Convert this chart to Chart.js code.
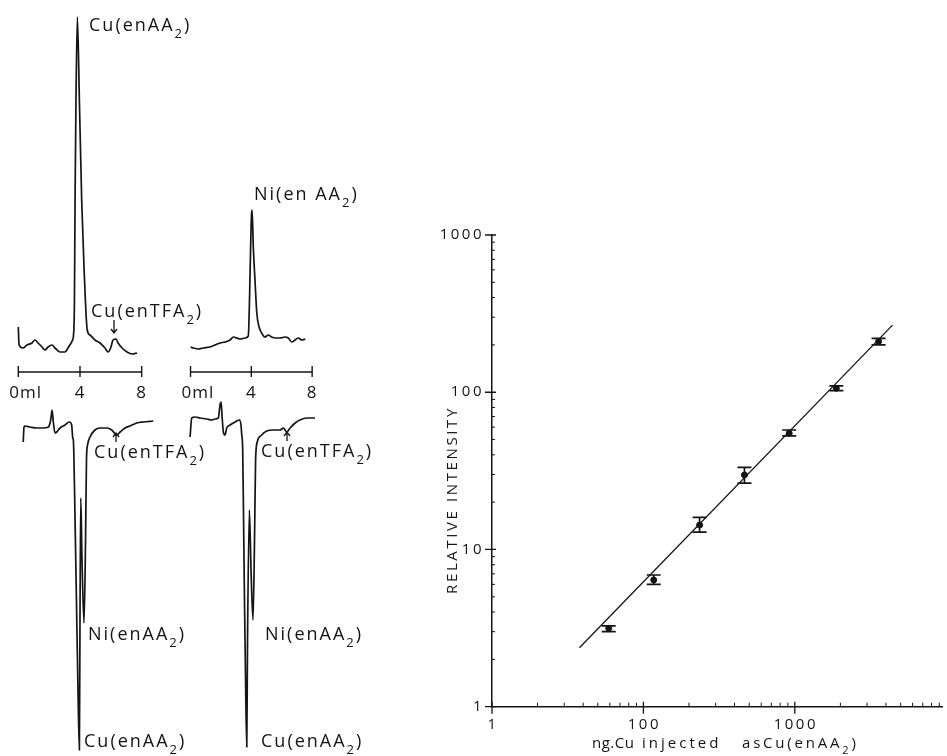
<!DOCTYPE html>
<html>
<head>
<meta charset="utf-8">
<script src="https://cdn.jsdelivr.net/npm/chart.js@4.4.1/dist/chart.umd.min.js"></script>
<style>
  html, body { margin: 0; padding: 0; background: #fff; }
  #wrap { position: relative; width: 947px; height: 756px; overflow: hidden; }
  #traces { position: absolute; left: 0; top: 0; }
  #calib { position: absolute; left: 400px; top: 200px; }
</style>
</head>
<body>
<div id="wrap">
  <canvas id="traces" width="400" height="756"></canvas>
  <canvas id="calib" width="547" height="556"></canvas>
</div>
<script>
// ---- elution traces: volume (ml) vs detector response (arbitrary units) ----
// upper left: Cu(enAA2) injection
const cuTopMl = [0.00, 0.05, 0.30, 0.56, 0.89, 1.08, 1.28, 1.54, 1.73, 1.93, 2.19, 2.38, 2.70, 3.03, 3.22, 3.42, 3.52, 3.58, 3.64, 3.68,
  3.74, 3.83, 3.96, 4.11, 4.26, 4.47, 4.65, 4.97, 5.30, 5.62, 5.82, 6.01, 6.14, 6.34, 6.47, 6.73, 7.05, 7.38, 7.70];
const cuTopResp = [28, 10, 7, 10, 12, 15, 12, 8, 5, 8, 10, 7, 3, 3, 7, 12, 15, 20, 55, 155,
  255, 338, 255, 155, 88, 25, 20, 15, 12, 7, 3, 8, 15, 16, 12, 7, 3, 1, 2];

// upper right: Ni(enAA2) injection
const niTopMl = [0.01, 0.18, 0.51, 0.84, 1.28, 1.61, 1.94, 2.27, 2.60, 2.82, 3.04, 3.26, 3.59, 3.80, 3.88, 3.95, 4.01, 4.05, 4.13, 4.24,
  4.36, 4.51, 4.68, 4.90, 5.12, 5.34, 5.56, 5.89, 6.22, 6.43, 6.66, 6.88, 7.09, 7.32, 7.55];
const niTopResp = [8, 7, 6, 7, 8, 10, 12, 13, 15, 18, 17, 16, 17, 19, 55, 105, 140, 145, 108, 75,
  42, 28, 22, 18, 20, 18, 17, 17, 18, 17, 13, 15, 17, 15, 16];

// lower left / lower right: second detector, negative peaks
const cuLowMl = [0.32, 0.37, 0.43, 0.76, 1.19, 1.62, 1.95, 2.10, 2.19, 2.27, 2.38, 2.49, 2.70, 3.03, 3.31, 3.46, 3.53, 3.57, 3.61, 3.68,
  3.77, 3.87, 3.96, 4.00, 4.05, 4.13, 4.26, 4.36, 4.42, 4.49, 4.65, 4.97, 5.30, 5.73, 6.06, 6.38, 6.60, 6.92, 7.24, 7.68, 8.11, 8.75];
const cuLowResp = [-12, 3, 4, 3, 2, 2, 3, 10, 20, 8, -3, -2, 2, 5, 8, 5, -8, -10, -30, -90,
  -170, -260, -320, -190, -68, -130, -193, -110, -30, -15, -7, 0, 2, 2, 0, -5, -2, 2, 4, 7, 8, 9];

const niLowMl = [-0.03, 0.08, 0.30, 0.63, 1.07, 1.39, 1.61, 1.83, 1.94, 2.01, 2.07, 2.16, 2.27, 2.38, 2.60, 2.93, 3.21, 3.32, 3.37, 3.43,
  3.49, 3.55, 3.62, 3.70, 3.75, 3.87, 3.98, 4.11, 4.21, 4.28, 4.39, 4.68, 5.01, 5.45, 5.89, 6.11, 6.33, 6.55, 6.88, 7.20, 7.64, 8.19];
const niLowResp = [-7, 12, 13, 12, 11, 10, 11, 12, 25, 28, 15, -2, -5, 2, 5, 8, 10, 5, -5, -18,
  -90, -170, -250, -317, -210, -80, -140, -190, -110, -30, -12, -5, -1, 0, 0, 2, -2, 2, 7, 10, 12, 12];

const scaleBarTicks = [0, 4, 8];
const scaleBarLabels = ["0ml", "4", "8"];

// ---- calibration: ng Cu injected vs relative intensity ----
const cuNg = [59, 117, 235, 465, 918, 1880, 3575];
const cuInt = [3.15, 6.4, 14.3, 29.8, 54.8, 106, 210];
const cuIntLow = [3.0, 6.0, 12.9, 26.4, 52.7, 102.4, 200];
const cuIntHigh = [3.27, 6.88, 16.0, 33.3, 57.5, 109.7, 220];
const fitNg = [37.8, 4420];
const fitInt = [2.37, 267];

const xTickValues = [10, 100, 1000];
const xTickLabels = ["1", "100", "1000"];
const yTickValues = [1, 10, 100, 1000];
const yTickLabels = ["1", "10", "100", "1000"];

const ink = "#141414";
const face = '"Open Sans", "DejaVu Sans", sans-serif';

const pts = (xs, ys) => xs.map((x, i) => ({ x: x, y: ys[i] }));

function subText(ctx, x, y, main, sub, tail, size, spacing) {
  ctx.letterSpacing = spacing + "px";
  ctx.font = size + "px " + face;
  ctx.fillText(main, x, y);
  const w = ctx.measureText(main).width;
  ctx.font = Math.round(size * 0.74) + "px " + face;
  ctx.fillText(sub, x + w, y + size * 0.4);
  const w2 = ctx.measureText(sub).width;
  ctx.font = size + "px " + face;
  ctx.fillText(tail, x + w + w2, y);
  ctx.letterSpacing = "0px";
}

function arrow(ctx, x, y0, y1) {
  const dir = y1 > y0 ? 1 : -1;
  ctx.beginPath();
  ctx.moveTo(x, y0);
  ctx.lineTo(x, y1);
  ctx.moveTo(x - 3, y1 - dir * 4);
  ctx.lineTo(x, y1);
  ctx.lineTo(x + 3, y1 - dir * 4);
  ctx.stroke();
}

// labels and ml scale bars for the elution traces
const traceNotes = {
  id: "traceNotes",
  afterDraw(chart) {
    const ctx = chart.ctx;
    ctx.save();
    ctx.fillStyle = ink;
    ctx.strokeStyle = ink;
    ctx.lineWidth = 1.3;
    ctx.textBaseline = "alphabetic";
    ctx.textAlign = "left";
    const fs = 18, sp = 2;
    subText(ctx, 89, 31, "Cu(enAA", "2", ")", fs, sp);
    subText(ctx, 254, 200, "Ni(en AA", "2", ")", fs, sp);
    subText(ctx, 91, 317, "Cu(enTFA", "2", ")", fs, sp);
    arrow(ctx, 114, 320, 333);
    subText(ctx, 94, 458, "Cu(enTFA", "2", ")", fs, sp);
    arrow(ctx, 116, 442, 433);
    subText(ctx, 261, 457, "Cu(enTFA", "2", ")", fs, sp);
    arrow(ctx, 287, 441, 432);
    subText(ctx, 88, 640, "Ni(enAA", "2", ")", fs, sp);
    subText(ctx, 265, 640, "Ni(enAA", "2", ")", fs, sp);
    subText(ctx, 84, 747, "Cu(enAA", "2", ")", fs, sp);
    subText(ctx, 261, 747, "Cu(enAA", "2", ")", fs, sp);

    // ml scale bars under the upper traces
    const yb = chart.scales.yUp.getPixelForValue(-17);
    ["xL", "xR"].forEach((id) => {
      const s = chart.scales[id];
      const a = s.getPixelForValue(scaleBarTicks[0]);
      const b = s.getPixelForValue(scaleBarTicks[scaleBarTicks.length - 1]);
      ctx.lineWidth = 1.4;
      ctx.beginPath();
      ctx.moveTo(a, yb);
      ctx.lineTo(b, yb);
      scaleBarTicks.forEach((v) => {
        const p = s.getPixelForValue(v);
        ctx.moveTo(p, yb - 6);
        ctx.lineTo(p, yb + 5);
      });
      ctx.stroke();
      ctx.font = "17px " + face;
      ctx.letterSpacing = "1px";
      ctx.textBaseline = "middle";
      scaleBarTicks.forEach((v, i) => {
        const p = s.getPixelForValue(v);
        if (i === 0) {
          ctx.textAlign = "left";
          ctx.fillText(scaleBarLabels[i], p - 9, yb + 21);
        } else {
          ctx.textAlign = "center";
          ctx.fillText(scaleBarLabels[i], p, yb + 21);
        }
      });
      ctx.letterSpacing = "0px";
      ctx.textAlign = "left";
      ctx.textBaseline = "alphabetic";
    });
    ctx.restore();
  }
};

const traceSet = (xs, ys, xid, yid) => ({
  data: pts(xs, ys),
  xAxisID: xid,
  yAxisID: yid,
  showLine: true,
  borderColor: ink,
  borderWidth: 1.7,
  pointRadius: 0,
  cubicInterpolationMode: "monotone"
});

new Chart(document.getElementById("traces"), {
  type: "scatter",
  data: {
    datasets: [
      traceSet(cuTopMl, cuTopResp, "xL", "yUp"),
      traceSet(niTopMl, niTopResp, "xR", "yUp"),
      traceSet(cuLowMl, cuLowResp, "xL", "yLow"),
      traceSet(niLowMl, niLowResp, "xR", "yLow")
    ]
  },
  options: {
    responsive: false,
    animation: false,
    layout: { padding: 0 },
    plugins: { legend: { display: false }, tooltip: { enabled: false } },
    scales: {
      xL: { type: "linear", display: false, min: -1.187, max: 24.75 },
      xR: { type: "linear", display: false, min: -12.533, max: 13.78 },
      yUp: { type: "linear", display: false, min: -401, max: 355 },
      yLow: { type: "linear", display: false, min: -326, max: 430 }
    }
  },
  plugins: [traceNotes]
});

// error bars, tick labels, crossed major ticks, minor ticks and axis titles for the calibration plot
const errorBars = {
  id: "errorBars",
  afterDatasetsDraw(chart) {
    const ctx = chart.ctx, xs = chart.scales.x, ys = chart.scales.y;
    ctx.save();
    ctx.strokeStyle = ink;
    ctx.lineWidth = 1.7;
    cuNg.forEach((v, i) => {
      const x = xs.getPixelForValue(v);
      const a = ys.getPixelForValue(cuIntLow[i]);
      const b = ys.getPixelForValue(cuIntHigh[i]);
      ctx.beginPath();
      ctx.moveTo(x, a); ctx.lineTo(x, b);
      ctx.moveTo(x - 7, a); ctx.lineTo(x + 7, a);
      ctx.moveTo(x - 7, b); ctx.lineTo(x + 7, b);
      ctx.stroke();
    });
    ctx.restore();
  }
};

const axisMarks = {
  id: "axisMarks",
  afterDraw(chart) {
    const ctx = chart.ctx, xs = chart.scales.x, ys = chart.scales.y;
    const area = chart.chartArea;
    ctx.save();
    ctx.strokeStyle = ink;
    ctx.lineWidth = 1.3;
    ctx.beginPath();
    yTickValues.forEach((v) => {
      const p = ys.getPixelForValue(v);
      ctx.moveTo(area.left - 7, p); ctx.lineTo(area.left + 4, p);
    });
    xTickValues.forEach((v) => {
      const p = xs.getPixelForValue(v);
      ctx.moveTo(p, area.bottom - 5); ctx.lineTo(p, area.bottom + 7);
    });
    ctx.stroke();
    ctx.lineWidth = 1;
    ctx.beginPath();
    for (let d = 1; d <= 1000; d *= 10) {
      for (let m = 2; m <= 9; m++) {
        const v = d * m;
        if (v > 10 && v < xs.max) {
          const p = xs.getPixelForValue(v);
          ctx.moveTo(p, area.bottom); ctx.lineTo(p, area.bottom - 4);
        }
        if (v < 1000) {
          const q = ys.getPixelForValue(v);
          ctx.moveTo(area.left, q); ctx.lineTo(area.left + 3, q);
        }
      }
    }
    ctx.stroke();

    ctx.fillStyle = ink;
    ctx.font = "15px " + face;
    ctx.letterSpacing = "2.5px";
    ctx.textBaseline = "middle";
    ctx.textAlign = "right";
    yTickValues.forEach((v, i) => {
      ctx.fillText(yTickLabels[i], area.left - 8, ys.getPixelForValue(v));
    });
    ctx.textAlign = "center";
    xTickValues.forEach((v, i) => {
      ctx.fillText(xTickLabels[i], xs.getPixelForValue(v) + 1, area.bottom + 18);
    });

    ctx.textBaseline = "alphabetic";
    ctx.textAlign = "left";
    ctx.font = "15px " + face;
    ctx.letterSpacing = "0.5px";
    ctx.fillText("ng.Cu", 192, 548);
    ctx.letterSpacing = "3px";
    ctx.fillText("injected", 242, 548);
    subText(ctx, 342, 548, "asCu(enAA", "2", ")", 15, 2.8);

    ctx.translate(53, 300);
    ctx.rotate(-Math.PI / 2);
    ctx.textAlign = "center";
    ctx.textBaseline = "middle";
    ctx.font = "15px " + face;
    ctx.letterSpacing = "2.6px";
    ctx.fillText("RELATIVE INTENSITY", 0, 0);
    ctx.restore();
  }
};

new Chart(document.getElementById("calib"), {
  type: "scatter",
  data: {
    datasets: [
      {
        data: pts(fitNg, fitInt),
        showLine: true,
        borderColor: ink,
        borderWidth: 1.3,
        pointRadius: 0
      },
      {
        data: pts(cuNg, cuInt),
        pointRadius: 3,
        pointBackgroundColor: ink,
        pointBorderColor: ink
      }
    ]
  },
  options: {
    responsive: false,
    animation: false,
    layout: { padding: { top: 35, right: 0, left: 0, bottom: 0 } },
    plugins: { legend: { display: false }, tooltip: { enabled: false } },
    scales: {
      x: {
        type: "logarithmic",
        min: 10,
        max: 9380,
        afterFit(s) { s.height = 49.3; },
        afterBuildTicks(s) { s.ticks = xTickValues.map((v) => ({ value: v })); },
        ticks: { display: false },
        grid: { drawOnChartArea: false, drawTicks: false },
        border: { color: ink, width: 1.5 }
      },
      y: {
        type: "logarithmic",
        min: 1,
        max: 1000,
        afterFit(s) { s.width = 92; },
        afterBuildTicks(s) { s.ticks = yTickValues.map((v) => ({ value: v })); },
        ticks: { display: false },
        grid: { drawOnChartArea: false, drawTicks: false },
        border: { color: ink, width: 1.5 }
      }
    }
  },
  plugins: [errorBars, axisMarks]
});
</script>
</body>
</html>
